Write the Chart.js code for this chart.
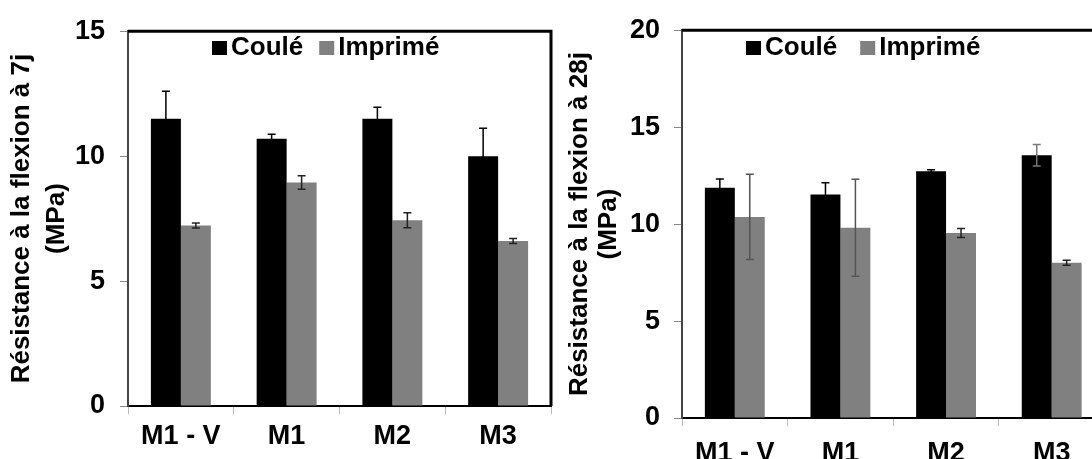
<!DOCTYPE html>
<html>
<head>
<meta charset="utf-8">
<script src="https://cdn.jsdelivr.net/npm/chart.js@4/dist/chart.umd.min.js"></script>
<style>
  body { margin: 0; overflow: hidden; background: #fff; width: 1092px; height: 459px; }
  .box { position: absolute; top: 0; height: 459px; }
</style>
</head>
<body>
<div class="box" style="left:0;width:560px"><canvas id="chart7" width="560" height="459"></canvas></div>
<div class="box" style="left:560px;width:560px"><canvas id="chart28" width="560" height="459"></canvas></div>
<script>
// data
const categories = ['M1 - V', 'M1', 'M2', 'M3'];
const seriesNames = ['Coulé', 'Imprimé'];

const coule7 = [11.5, 10.7, 11.5, 10.0];
const coule7Err = [1.1, 0.18, 0.46, 1.12];
const imprime7 = [7.22, 8.94, 7.43, 6.6];
const imprime7Err = [0.1, 0.27, 0.3, 0.1];

const coule28 = [11.87, 11.53, 12.73, 13.55];
const coule28Err = [0.46, 0.6, 0.07, 0.56];
const imprime28 = [10.37, 9.81, 9.54, 8.01];
const imprime28Err = [2.2, 2.5, 0.23, 0.13];

const ticks7 = [0, 5, 10, 15];
const ticks28 = [0, 5, 10, 15, 20];

const FONT = "'Liberation Sans', Arial, sans-serif";

// error bars drawn from the errors stored on each dataset
const errorBars = {
  id: 'errorBars',
  afterDatasetsDraw(chart) {
    const c = chart.ctx;
    const y = chart.scales.y;
    chart.data.datasets.forEach((ds, i) => {
      const meta = chart.getDatasetMeta(i);
      meta.data.forEach((bar, j) => {
        const v = ds.data[j], e = ds.errors[j];
        const top = y.getPixelForValue(v + e);
        const bot = y.getPixelForValue(v - e);
        c.save();
        c.strokeStyle = ds.errorColors[j];
        c.lineWidth = 1.5;
        c.beginPath();
        c.moveTo(bar.x, top); c.lineTo(bar.x, bot);
        c.moveTo(bar.x - 4, top); c.lineTo(bar.x + 4, top);
        c.moveTo(bar.x - 4, bot); c.lineTo(bar.x + 4, bot);
        c.stroke();
        c.restore();
      });
    });
  }
};

// thick frame on top and right of the plot
const frame = {
  id: 'frame',
  afterDraw(chart) {
    const a = chart.chartArea, c = chart.ctx;
    c.save();
    c.strokeStyle = '#000';
    c.lineWidth = 3;
    c.beginPath();
    c.moveTo(a.left, a.top);
    c.lineTo(a.right, a.top);
    c.lineTo(a.right, a.bottom);
    c.stroke();
    c.restore();
  }
};

// legend drawn inside the plot area
const innerLegend = {
  id: 'innerLegend',
  afterDraw(chart, args, opts) {
    const c = chart.ctx;
    let x = opts.x;
    c.save();
    c.font = 'bold 26px ' + FONT;
    c.textBaseline = 'alphabetic';
    chart.data.datasets.forEach((ds) => {
      c.fillStyle = ds.backgroundColor;
      c.fillRect(x, 41, 15, 14);
      x += 19;
      c.fillStyle = '#000';
      c.fillText(ds.label, x, 55);
      x += c.measureText(ds.label).width + opts.gap;
    });
    c.restore();
  }
};

function makeChart(id, coule, couleErr, imprime, imprimeErr, yMax, tickVals, title, cfg) {
  return new Chart(document.getElementById(id), {
    type: 'bar',
    data: {
      labels: categories,
      datasets: [{
        label: seriesNames[0],
        data: coule,
        errors: couleErr,
        errorColors: cfg.couleErrColors,
        backgroundColor: '#000000',
        categoryPercentage: 0.567,
        barPercentage: 1.0
      }, {
        label: seriesNames[1],
        data: imprime,
        errors: imprimeErr,
        errorColors: cfg.imprimeErrColors,
        backgroundColor: '#808080',
        categoryPercentage: 0.567,
        barPercentage: 1.0
      }]
    },
    options: {
      responsive: false,
      animation: false,
      layout: { padding: { top: cfg.top, right: cfg.right, left: 0, bottom: 0 } },
      plugins: {
        legend: { display: false },
        tooltip: { enabled: false },
        innerLegend: { x: cfg.legendX, gap: cfg.legendGap }
      },
      scales: {
        x: {
          afterFit: (s) => { s.height = cfg.xHeight; },
          grid: { drawOnChartArea: false, tickLength: 8, color: '#bbbbbb', offset: true },
          border: { color: '#000', width: 2 },
          ticks: { color: '#000', padding: cfg.xPad, font: { family: FONT, size: 27, weight: 'bold' } }
        },
        y: {
          min: 0,
          max: yMax,
          afterFit: (s) => { s.width = cfg.yWidth; },
          afterBuildTicks: (s) => { s.ticks = tickVals.map(v => ({ value: v })); },
          grid: { drawOnChartArea: false, tickLength: 8, color: '#888888' },
          border: { color: '#444', width: 2 },
          ticks: { color: '#000', padding: cfg.tickPad, font: { family: FONT, size: 27, weight: 'bold' } },
          title: {
            display: true,
            text: title,
            color: '#000',
            padding: { top: cfg.titlePad, bottom: 0 },
            font: { family: FONT, size: 26, weight: 'bold', lineHeight: cfg.titleLine }
          }
        }
      }
    },
    plugins: [errorBars, frame, innerLegend]
  });
}

makeChart('chart7', coule7, coule7Err, imprime7, imprime7Err, 15, ticks7,
  ['Résistance à la flexion à 7j', '(MPa)'],
  { top: 25, right: 9, xHeight: 53, yWidth: 128, tickPad: 15, xPad: 6, titlePad: 5, titleLine: 1.33,
    legendX: 212, legendGap: 16,
    couleErrColors: ['#000', '#000', '#000', '#000'],
    imprimeErrColors: ['#222', '#222', '#222', '#222'] });

makeChart('chart28', coule28, coule28Err, imprime28, imprime28Err, 20, ticks28,
  ['Résistance à la flexion à 28j', '(MPa)'],
  { top: 26, right: 15.5, xHeight: 41, yWidth: 122, tickPad: 14, xPad: 11, titlePad: 6, titleLine: 1.1,
    legendX: 186, legendGap: 23,
    couleErrColors: ['#000', '#000', '#000', '#777'],
    imprimeErrColors: ['#555', '#555', '#222', '#222'] });
</script>
</body>
</html>
